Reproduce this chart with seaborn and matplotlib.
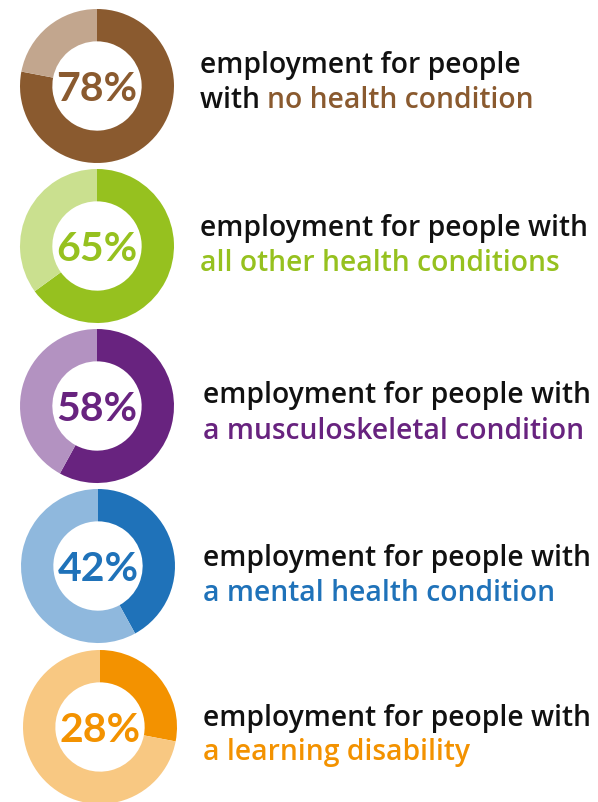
import matplotlib
matplotlib.use("Agg")
import matplotlib.pyplot as plt
import seaborn as sns

sns.set_theme(style="white")
plt.rcParams["font.family"] = ["Lato", "DejaVu Sans"]

# values
percents = [78, 65, 58, 42, 28]
groups = ["no health condition", "all other health conditions",
          "a musculoskeletal condition", "a mental health condition",
          "a learning disability"]
first_lines = ["employment for people", "employment for people with",
               "employment for people with", "employment for people with",
               "employment for people with"]
second_prefix = ["with ", "", "", "", ""]
dark = ["#8A5A2F", "#96C11F", "#68237F", "#1F72B9", "#F39200"]
light = ["#C2A68E", "#CAE08F", "#B392C1", "#8FB8DD", "#F8C882"]

W, H = 598, 802
fig = plt.figure(figsize=(W / 100, H / 100), dpi=100)

# pixel layout
centers = [(97, 86), (97, 246), (97, 406), (98, 566), (100, 727)]
radius = 77
text_x = [200, 200, 203, 203, 203]
text_y = [(62, 97), (225, 260), (392, 428), (555, 590), (715, 749)]
label_font = dict(family=["Open Sans", "DejaVu Sans"], fontsize=20.3,
                  fontweight="semibold")

for i, pct in enumerate(percents):
    cx, cy = centers[i]
    ax = fig.add_axes([(cx - radius) / W, 1 - (cy + radius) / H,
                       2 * radius / W, 2 * radius / H])
    ax.pie([pct, 100 - pct], colors=[dark[i], light[i]], startangle=90,
           counterclock=False, radius=1,
           wedgeprops=dict(width=0.42, edgecolor="none"))
    ax.set_xlim(-1, 1)
    ax.set_ylim(-1, 1)
    ax.set_aspect("equal")
    ax.axis("off")
    ax.text(0, 0, f"{pct}%", ha="center", va="center_baseline",
            fontsize=29.5, fontweight="bold", color=dark[i])

    y1, y2 = text_y[i]
    fig.text(text_x[i] / W, 1 - y1 / H, first_lines[i], ha="left",
             va="center_baseline", color="#111111", **label_font)
    t = fig.text(text_x[i] / W, 1 - y2 / H, second_prefix[i], ha="left",
                 va="center_baseline", color="#111111", **label_font)
    fig.canvas.draw()
    bb = t.get_window_extent()
    x2 = bb.x1 / W if second_prefix[i] else text_x[i] / W
    fig.text(x2, 1 - y2 / H, groups[i], ha="left", va="center_baseline",
             color=dark[i], **label_font)

fig.savefig("out.png", dpi=100)
